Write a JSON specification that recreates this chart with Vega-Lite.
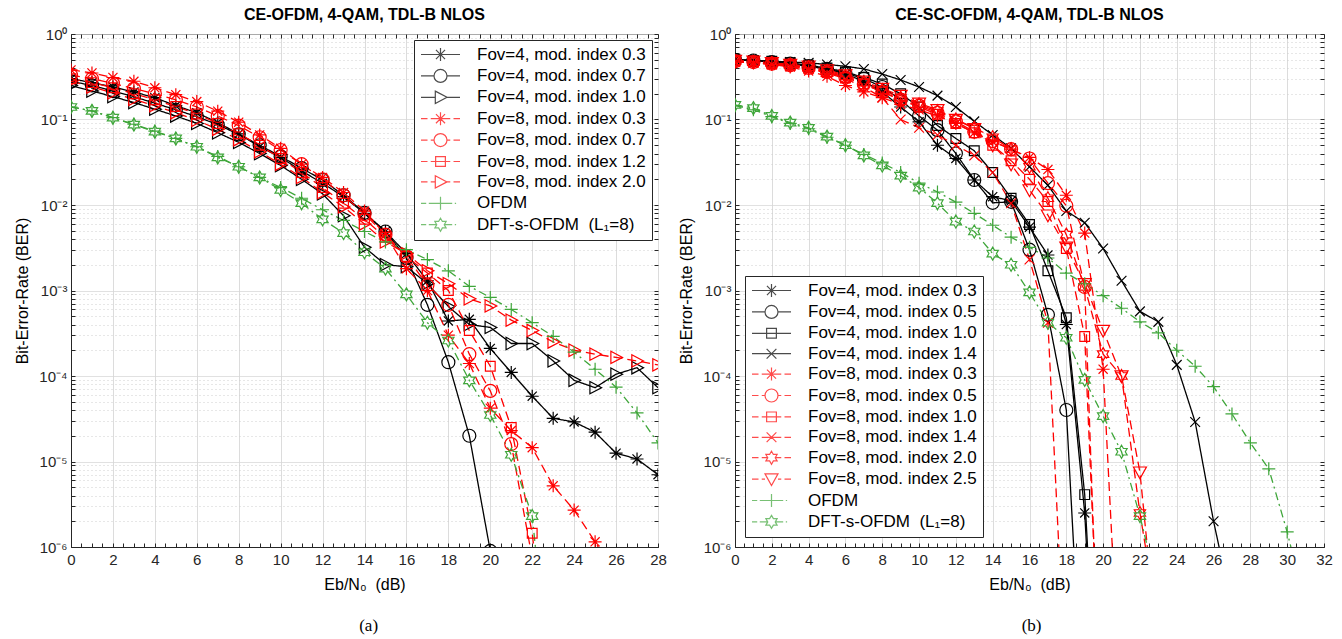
{
"$schema": "https://vega.github.io/schema/vega-lite/v6.json",
"background": "white",
"padding": {"left": 14, "top": 6, "right": 8, "bottom": 2},
"spacing": 11,
"config": {
  "font": "Liberation Sans",
  "view": {"stroke": "#262626", "strokeWidth": 1},
  "title": {"fontSize": 16, "fontWeight": "bold", "color": "#000000", "offset": 4},
  "axis": {"labelFontSize": 15, "labelColor": "#262626", "tickColor": "#262626", "domainColor": "#262626", "titleFontSize": 16, "titleFontWeight": "normal", "titleColor": "#000000", "labelOverlap": false, "labelFlush": false, "gridWidth": 1}
},
"datasets": {
"a": [
{"s":"Fov=4, mod. index 0.3","x":0,"y":0.3},{"s":"Fov=4, mod. index 0.3","x":1,"y":0.27},{"s":"Fov=4, mod. index 0.3","x":2,"y":0.24},{"s":"Fov=4, mod. index 0.3","x":3,"y":0.21},{"s":"Fov=4, mod. index 0.3","x":4,"y":0.18},{"s":"Fov=4, mod. index 0.3","x":5,"y":0.145},{"s":"Fov=4, mod. index 0.3","x":6,"y":0.12},{"s":"Fov=4, mod. index 0.3","x":7,"y":0.092},{"s":"Fov=4, mod. index 0.3","x":8,"y":0.068},{"s":"Fov=4, mod. index 0.3","x":9,"y":0.048},{"s":"Fov=4, mod. index 0.3","x":10,"y":0.036},{"s":"Fov=4, mod. index 0.3","x":11,"y":0.025},{"s":"Fov=4, mod. index 0.3","x":12,"y":0.018},{"s":"Fov=4, mod. index 0.3","x":13,"y":0.0125},{"s":"Fov=4, mod. index 0.3","x":14,"y":0.008},{"s":"Fov=4, mod. index 0.3","x":15,"y":0.0049},{"s":"Fov=4, mod. index 0.3","x":16,"y":0.0027},{"s":"Fov=4, mod. index 0.3","x":17,"y":0.0013},{"s":"Fov=4, mod. index 0.3","x":18,"y":0.00044},{"s":"Fov=4, mod. index 0.3","x":19,"y":0.00046},{"s":"Fov=4, mod. index 0.3","x":20,"y":0.00021},{"s":"Fov=4, mod. index 0.3","x":21,"y":0.00011},{"s":"Fov=4, mod. index 0.3","x":22,"y":5.8e-5},{"s":"Fov=4, mod. index 0.3","x":23,"y":3.2e-5},{"s":"Fov=4, mod. index 0.3","x":24,"y":2.9e-5},{"s":"Fov=4, mod. index 0.3","x":25,"y":2.2e-5},{"s":"Fov=4, mod. index 0.3","x":26,"y":1.25e-5},{"s":"Fov=4, mod. index 0.3","x":27,"y":1.07e-5},{"s":"Fov=4, mod. index 0.3","x":28,"y":7e-6},
{"s":"Fov=4, mod. index 0.7","x":0,"y":0.28},{"s":"Fov=4, mod. index 0.7","x":1,"y":0.25},{"s":"Fov=4, mod. index 0.7","x":2,"y":0.215},{"s":"Fov=4, mod. index 0.7","x":3,"y":0.185},{"s":"Fov=4, mod. index 0.7","x":4,"y":0.155},{"s":"Fov=4, mod. index 0.7","x":5,"y":0.13},{"s":"Fov=4, mod. index 0.7","x":6,"y":0.108},{"s":"Fov=4, mod. index 0.7","x":7,"y":0.087},{"s":"Fov=4, mod. index 0.7","x":8,"y":0.067},{"s":"Fov=4, mod. index 0.7","x":9,"y":0.05},{"s":"Fov=4, mod. index 0.7","x":10,"y":0.037},{"s":"Fov=4, mod. index 0.7","x":11,"y":0.027},{"s":"Fov=4, mod. index 0.7","x":12,"y":0.0196},{"s":"Fov=4, mod. index 0.7","x":13,"y":0.013},{"s":"Fov=4, mod. index 0.7","x":14,"y":0.0081},{"s":"Fov=4, mod. index 0.7","x":15,"y":0.0049},{"s":"Fov=4, mod. index 0.7","x":16,"y":0.0024},{"s":"Fov=4, mod. index 0.7","x":17,"y":0.00068},{"s":"Fov=4, mod. index 0.7","x":18,"y":0.000145},{"s":"Fov=4, mod. index 0.7","x":19,"y":2e-5},{"s":"Fov=4, mod. index 0.7","x":20,"y":9e-7},
{"s":"Fov=4, mod. index 1.0","x":0,"y":0.25},{"s":"Fov=4, mod. index 1.0","x":1,"y":0.215},{"s":"Fov=4, mod. index 1.0","x":2,"y":0.185},{"s":"Fov=4, mod. index 1.0","x":3,"y":0.158},{"s":"Fov=4, mod. index 1.0","x":4,"y":0.132},{"s":"Fov=4, mod. index 1.0","x":5,"y":0.11},{"s":"Fov=4, mod. index 1.0","x":6,"y":0.09},{"s":"Fov=4, mod. index 1.0","x":7,"y":0.07},{"s":"Fov=4, mod. index 1.0","x":8,"y":0.054},{"s":"Fov=4, mod. index 1.0","x":9,"y":0.04},{"s":"Fov=4, mod. index 1.0","x":10,"y":0.029},{"s":"Fov=4, mod. index 1.0","x":11,"y":0.02},{"s":"Fov=4, mod. index 1.0","x":12,"y":0.0135},{"s":"Fov=4, mod. index 1.0","x":13,"y":0.0075},{"s":"Fov=4, mod. index 1.0","x":14,"y":0.0032},{"s":"Fov=4, mod. index 1.0","x":15,"y":0.002},{"s":"Fov=4, mod. index 1.0","x":16,"y":0.0019},{"s":"Fov=4, mod. index 1.0","x":17,"y":0.0012},{"s":"Fov=4, mod. index 1.0","x":18,"y":0.00065},{"s":"Fov=4, mod. index 1.0","x":19,"y":0.0004},{"s":"Fov=4, mod. index 1.0","x":20,"y":0.00037},{"s":"Fov=4, mod. index 1.0","x":21,"y":0.00024},{"s":"Fov=4, mod. index 1.0","x":22,"y":0.00024},{"s":"Fov=4, mod. index 1.0","x":23,"y":0.00015},{"s":"Fov=4, mod. index 1.0","x":24,"y":8.9e-5},{"s":"Fov=4, mod. index 1.0","x":25,"y":7.3e-5},{"s":"Fov=4, mod. index 1.0","x":26,"y":0.000105},{"s":"Fov=4, mod. index 1.0","x":27,"y":0.000125},{"s":"Fov=4, mod. index 1.0","x":28,"y":7.3e-5},
{"s":"Fov=8, mod. index 0.3","x":0,"y":0.38},{"s":"Fov=8, mod. index 0.3","x":1,"y":0.35},{"s":"Fov=8, mod. index 0.3","x":2,"y":0.31},{"s":"Fov=8, mod. index 0.3","x":3,"y":0.28},{"s":"Fov=8, mod. index 0.3","x":4,"y":0.235},{"s":"Fov=8, mod. index 0.3","x":5,"y":0.195},{"s":"Fov=8, mod. index 0.3","x":6,"y":0.162},{"s":"Fov=8, mod. index 0.3","x":7,"y":0.125},{"s":"Fov=8, mod. index 0.3","x":8,"y":0.093},{"s":"Fov=8, mod. index 0.3","x":9,"y":0.066},{"s":"Fov=8, mod. index 0.3","x":10,"y":0.046},{"s":"Fov=8, mod. index 0.3","x":11,"y":0.03},{"s":"Fov=8, mod. index 0.3","x":12,"y":0.021},{"s":"Fov=8, mod. index 0.3","x":13,"y":0.014},{"s":"Fov=8, mod. index 0.3","x":14,"y":0.0085},{"s":"Fov=8, mod. index 0.3","x":15,"y":0.0045},{"s":"Fov=8, mod. index 0.3","x":16,"y":0.0018},{"s":"Fov=8, mod. index 0.3","x":17,"y":0.001},{"s":"Fov=8, mod. index 0.3","x":18,"y":0.0003},{"s":"Fov=8, mod. index 0.3","x":19,"y":0.00014},{"s":"Fov=8, mod. index 0.3","x":20,"y":4.2e-5},{"s":"Fov=8, mod. index 0.3","x":21,"y":2.3e-5},{"s":"Fov=8, mod. index 0.3","x":22,"y":1.45e-5},{"s":"Fov=8, mod. index 0.3","x":23,"y":5.2e-6},{"s":"Fov=8, mod. index 0.3","x":24,"y":2.7e-6},{"s":"Fov=8, mod. index 0.3","x":25,"y":1.15e-6},{"s":"Fov=8, mod. index 0.3","x":26,"y":4.5e-7},
{"s":"Fov=8, mod. index 0.7","x":0,"y":0.33},{"s":"Fov=8, mod. index 0.7","x":1,"y":0.3},{"s":"Fov=8, mod. index 0.7","x":2,"y":0.265},{"s":"Fov=8, mod. index 0.7","x":3,"y":0.23},{"s":"Fov=8, mod. index 0.7","x":4,"y":0.2},{"s":"Fov=8, mod. index 0.7","x":5,"y":0.17},{"s":"Fov=8, mod. index 0.7","x":6,"y":0.14},{"s":"Fov=8, mod. index 0.7","x":7,"y":0.11},{"s":"Fov=8, mod. index 0.7","x":8,"y":0.085},{"s":"Fov=8, mod. index 0.7","x":9,"y":0.062},{"s":"Fov=8, mod. index 0.7","x":10,"y":0.044},{"s":"Fov=8, mod. index 0.7","x":11,"y":0.03},{"s":"Fov=8, mod. index 0.7","x":12,"y":0.02},{"s":"Fov=8, mod. index 0.7","x":13,"y":0.013},{"s":"Fov=8, mod. index 0.7","x":14,"y":0.0078},{"s":"Fov=8, mod. index 0.7","x":15,"y":0.0045},{"s":"Fov=8, mod. index 0.7","x":16,"y":0.0025},{"s":"Fov=8, mod. index 0.7","x":17,"y":0.00115},{"s":"Fov=8, mod. index 0.7","x":18,"y":0.00068},{"s":"Fov=8, mod. index 0.7","x":19,"y":0.00018},{"s":"Fov=8, mod. index 0.7","x":20,"y":6.7e-5},{"s":"Fov=8, mod. index 0.7","x":21,"y":1.6e-5},{"s":"Fov=8, mod. index 0.7","x":22,"y":7.4e-7},
{"s":"Fov=8, mod. index 1.2","x":0,"y":0.3},{"s":"Fov=8, mod. index 1.2","x":1,"y":0.27},{"s":"Fov=8, mod. index 1.2","x":2,"y":0.235},{"s":"Fov=8, mod. index 1.2","x":3,"y":0.2},{"s":"Fov=8, mod. index 1.2","x":4,"y":0.17},{"s":"Fov=8, mod. index 1.2","x":5,"y":0.142},{"s":"Fov=8, mod. index 1.2","x":6,"y":0.116},{"s":"Fov=8, mod. index 1.2","x":7,"y":0.09},{"s":"Fov=8, mod. index 1.2","x":8,"y":0.068},{"s":"Fov=8, mod. index 1.2","x":9,"y":0.05},{"s":"Fov=8, mod. index 1.2","x":10,"y":0.035},{"s":"Fov=8, mod. index 1.2","x":11,"y":0.024},{"s":"Fov=8, mod. index 1.2","x":12,"y":0.016},{"s":"Fov=8, mod. index 1.2","x":13,"y":0.0105},{"s":"Fov=8, mod. index 1.2","x":14,"y":0.0068},{"s":"Fov=8, mod. index 1.2","x":15,"y":0.0042},{"s":"Fov=8, mod. index 1.2","x":16,"y":0.0025},{"s":"Fov=8, mod. index 1.2","x":17,"y":0.0016},{"s":"Fov=8, mod. index 1.2","x":18,"y":0.001},{"s":"Fov=8, mod. index 1.2","x":19,"y":0.00034},{"s":"Fov=8, mod. index 1.2","x":20,"y":0.00013},{"s":"Fov=8, mod. index 1.2","x":21,"y":2.5e-5},{"s":"Fov=8, mod. index 1.2","x":22,"y":1.45e-6},{"s":"Fov=8, mod. index 1.2","x":23,"y":1e-8},
{"s":"Fov=8, mod. index 2.0","x":0,"y":0.28},{"s":"Fov=8, mod. index 2.0","x":1,"y":0.24},{"s":"Fov=8, mod. index 2.0","x":2,"y":0.205},{"s":"Fov=8, mod. index 2.0","x":3,"y":0.172},{"s":"Fov=8, mod. index 2.0","x":4,"y":0.145},{"s":"Fov=8, mod. index 2.0","x":5,"y":0.12},{"s":"Fov=8, mod. index 2.0","x":6,"y":0.098},{"s":"Fov=8, mod. index 2.0","x":7,"y":0.077},{"s":"Fov=8, mod. index 2.0","x":8,"y":0.058},{"s":"Fov=8, mod. index 2.0","x":9,"y":0.042},{"s":"Fov=8, mod. index 2.0","x":10,"y":0.03},{"s":"Fov=8, mod. index 2.0","x":11,"y":0.021},{"s":"Fov=8, mod. index 2.0","x":12,"y":0.014},{"s":"Fov=8, mod. index 2.0","x":13,"y":0.0095},{"s":"Fov=8, mod. index 2.0","x":14,"y":0.006},{"s":"Fov=8, mod. index 2.0","x":15,"y":0.0037},{"s":"Fov=8, mod. index 2.0","x":16,"y":0.0027},{"s":"Fov=8, mod. index 2.0","x":17,"y":0.0017},{"s":"Fov=8, mod. index 2.0","x":18,"y":0.0012},{"s":"Fov=8, mod. index 2.0","x":19,"y":0.0008},{"s":"Fov=8, mod. index 2.0","x":20,"y":0.00066},{"s":"Fov=8, mod. index 2.0","x":21,"y":0.00045},{"s":"Fov=8, mod. index 2.0","x":22,"y":0.00034},{"s":"Fov=8, mod. index 2.0","x":23,"y":0.00025},{"s":"Fov=8, mod. index 2.0","x":24,"y":0.0002},{"s":"Fov=8, mod. index 2.0","x":25,"y":0.00018},{"s":"Fov=8, mod. index 2.0","x":26,"y":0.000165},{"s":"Fov=8, mod. index 2.0","x":27,"y":0.00015},{"s":"Fov=8, mod. index 2.0","x":28,"y":0.000135},
{"s":"OFDM","x":0,"y":0.14},{"s":"OFDM","x":1,"y":0.126},{"s":"OFDM","x":2,"y":0.105},{"s":"OFDM","x":3,"y":0.088},{"s":"OFDM","x":4,"y":0.073},{"s":"OFDM","x":5,"y":0.06},{"s":"OFDM","x":6,"y":0.048},{"s":"OFDM","x":7,"y":0.037},{"s":"OFDM","x":8,"y":0.028},{"s":"OFDM","x":9,"y":0.021},{"s":"OFDM","x":10,"y":0.016},{"s":"OFDM","x":11,"y":0.012},{"s":"OFDM","x":12,"y":0.0088},{"s":"OFDM","x":13,"y":0.0066},{"s":"OFDM","x":14,"y":0.0049},{"s":"OFDM","x":15,"y":0.0037},{"s":"OFDM","x":16,"y":0.003},{"s":"OFDM","x":17,"y":0.0023},{"s":"OFDM","x":18,"y":0.0017},{"s":"OFDM","x":19,"y":0.00112},{"s":"OFDM","x":20,"y":0.00083},{"s":"OFDM","x":21,"y":0.0006},{"s":"OFDM","x":22,"y":0.00042},{"s":"OFDM","x":23,"y":0.00029},{"s":"OFDM","x":24,"y":0.00019},{"s":"OFDM","x":25,"y":0.00012},{"s":"OFDM","x":26,"y":7.4e-5},{"s":"OFDM","x":27,"y":3.7e-5},{"s":"OFDM","x":28,"y":1.65e-5},
{"s":"DFT-s-OFDM\u00a0 (L₁=8)","x":0,"y":0.14},{"s":"DFT-s-OFDM\u00a0 (L₁=8)","x":1,"y":0.126},{"s":"DFT-s-OFDM\u00a0 (L₁=8)","x":2,"y":0.105},{"s":"DFT-s-OFDM\u00a0 (L₁=8)","x":3,"y":0.087},{"s":"DFT-s-OFDM\u00a0 (L₁=8)","x":4,"y":0.072},{"s":"DFT-s-OFDM\u00a0 (L₁=8)","x":5,"y":0.06},{"s":"DFT-s-OFDM\u00a0 (L₁=8)","x":6,"y":0.048},{"s":"DFT-s-OFDM\u00a0 (L₁=8)","x":7,"y":0.036},{"s":"DFT-s-OFDM\u00a0 (L₁=8)","x":8,"y":0.028},{"s":"DFT-s-OFDM\u00a0 (L₁=8)","x":9,"y":0.021},{"s":"DFT-s-OFDM\u00a0 (L₁=8)","x":10,"y":0.015},{"s":"DFT-s-OFDM\u00a0 (L₁=8)","x":11,"y":0.0105},{"s":"DFT-s-OFDM\u00a0 (L₁=8)","x":12,"y":0.0068},{"s":"DFT-s-OFDM\u00a0 (L₁=8)","x":13,"y":0.0047},{"s":"DFT-s-OFDM\u00a0 (L₁=8)","x":14,"y":0.0028},{"s":"DFT-s-OFDM\u00a0 (L₁=8)","x":15,"y":0.0018},{"s":"DFT-s-OFDM\u00a0 (L₁=8)","x":16,"y":0.0009},{"s":"DFT-s-OFDM\u00a0 (L₁=8)","x":17,"y":0.00042},{"s":"DFT-s-OFDM\u00a0 (L₁=8)","x":18,"y":0.00026},{"s":"DFT-s-OFDM\u00a0 (L₁=8)","x":19,"y":8.9e-5},{"s":"DFT-s-OFDM\u00a0 (L₁=8)","x":20,"y":3.5e-5},{"s":"DFT-s-OFDM\u00a0 (L₁=8)","x":21,"y":1.2e-5},{"s":"DFT-s-OFDM\u00a0 (L₁=8)","x":22,"y":2.3e-6},{"s":"DFT-s-OFDM\u00a0 (L₁=8)","x":23,"y":1e-8}
],
"b": [
{"s":"Fov=4, mod. index 0.3","x":0,"y":0.5},{"s":"Fov=4, mod. index 0.3","x":1,"y":0.49},{"s":"Fov=4, mod. index 0.3","x":2,"y":0.47},{"s":"Fov=4, mod. index 0.3","x":3,"y":0.45},{"s":"Fov=4, mod. index 0.3","x":4,"y":0.42},{"s":"Fov=4, mod. index 0.3","x":5,"y":0.39},{"s":"Fov=4, mod. index 0.3","x":6,"y":0.34},{"s":"Fov=4, mod. index 0.3","x":7,"y":0.28},{"s":"Fov=4, mod. index 0.3","x":8,"y":0.21},{"s":"Fov=4, mod. index 0.3","x":9,"y":0.14},{"s":"Fov=4, mod. index 0.3","x":10,"y":0.094},{"s":"Fov=4, mod. index 0.3","x":11,"y":0.05},{"s":"Fov=4, mod. index 0.3","x":12,"y":0.035},{"s":"Fov=4, mod. index 0.3","x":13,"y":0.0196},{"s":"Fov=4, mod. index 0.3","x":14,"y":0.0125},{"s":"Fov=4, mod. index 0.3","x":15,"y":0.0112},{"s":"Fov=4, mod. index 0.3","x":16,"y":0.0055},{"s":"Fov=4, mod. index 0.3","x":17,"y":0.0026},{"s":"Fov=4, mod. index 0.3","x":18,"y":0.0004},{"s":"Fov=4, mod. index 0.3","x":19,"y":2.5e-6},{"s":"Fov=4, mod. index 0.3","x":20,"y":2.5e-10},
{"s":"Fov=4, mod. index 0.5","x":0,"y":0.5},{"s":"Fov=4, mod. index 0.5","x":1,"y":0.49},{"s":"Fov=4, mod. index 0.5","x":2,"y":0.47},{"s":"Fov=4, mod. index 0.5","x":3,"y":0.45},{"s":"Fov=4, mod. index 0.5","x":4,"y":0.42},{"s":"Fov=4, mod. index 0.5","x":5,"y":0.39},{"s":"Fov=4, mod. index 0.5","x":6,"y":0.35},{"s":"Fov=4, mod. index 0.5","x":7,"y":0.3},{"s":"Fov=4, mod. index 0.5","x":8,"y":0.24},{"s":"Fov=4, mod. index 0.5","x":9,"y":0.17},{"s":"Fov=4, mod. index 0.5","x":10,"y":0.11},{"s":"Fov=4, mod. index 0.5","x":11,"y":0.075},{"s":"Fov=4, mod. index 0.5","x":12,"y":0.04},{"s":"Fov=4, mod. index 0.5","x":13,"y":0.0196},{"s":"Fov=4, mod. index 0.5","x":14,"y":0.0106},{"s":"Fov=4, mod. index 0.5","x":15,"y":0.0109},{"s":"Fov=4, mod. index 0.5","x":16,"y":0.003},{"s":"Fov=4, mod. index 0.5","x":17,"y":0.00052},{"s":"Fov=4, mod. index 0.5","x":18,"y":4e-5},{"s":"Fov=4, mod. index 0.5","x":19,"y":4e-9},
{"s":"Fov=4, mod. index 1.0","x":0,"y":0.5},{"s":"Fov=4, mod. index 1.0","x":1,"y":0.49},{"s":"Fov=4, mod. index 1.0","x":2,"y":0.48},{"s":"Fov=4, mod. index 1.0","x":3,"y":0.46},{"s":"Fov=4, mod. index 1.0","x":4,"y":0.43},{"s":"Fov=4, mod. index 1.0","x":5,"y":0.4},{"s":"Fov=4, mod. index 1.0","x":6,"y":0.36},{"s":"Fov=4, mod. index 1.0","x":7,"y":0.31},{"s":"Fov=4, mod. index 1.0","x":8,"y":0.26},{"s":"Fov=4, mod. index 1.0","x":9,"y":0.2},{"s":"Fov=4, mod. index 1.0","x":10,"y":0.14},{"s":"Fov=4, mod. index 1.0","x":11,"y":0.085},{"s":"Fov=4, mod. index 1.0","x":12,"y":0.06},{"s":"Fov=4, mod. index 1.0","x":13,"y":0.043},{"s":"Fov=4, mod. index 1.0","x":14,"y":0.024},{"s":"Fov=4, mod. index 1.0","x":15,"y":0.012},{"s":"Fov=4, mod. index 1.0","x":16,"y":0.0059},{"s":"Fov=4, mod. index 1.0","x":17,"y":0.0017},{"s":"Fov=4, mod. index 1.0","x":18,"y":0.00048},{"s":"Fov=4, mod. index 1.0","x":19,"y":4.1e-6},{"s":"Fov=4, mod. index 1.0","x":20,"y":4e-10},
{"s":"Fov=4, mod. index 1.4","x":0,"y":0.5},{"s":"Fov=4, mod. index 1.4","x":1,"y":0.49},{"s":"Fov=4, mod. index 1.4","x":2,"y":0.48},{"s":"Fov=4, mod. index 1.4","x":3,"y":0.47},{"s":"Fov=4, mod. index 1.4","x":4,"y":0.46},{"s":"Fov=4, mod. index 1.4","x":5,"y":0.44},{"s":"Fov=4, mod. index 1.4","x":6,"y":0.42},{"s":"Fov=4, mod. index 1.4","x":7,"y":0.39},{"s":"Fov=4, mod. index 1.4","x":8,"y":0.34},{"s":"Fov=4, mod. index 1.4","x":9,"y":0.29},{"s":"Fov=4, mod. index 1.4","x":10,"y":0.24},{"s":"Fov=4, mod. index 1.4","x":11,"y":0.19},{"s":"Fov=4, mod. index 1.4","x":12,"y":0.14},{"s":"Fov=4, mod. index 1.4","x":13,"y":0.095},{"s":"Fov=4, mod. index 1.4","x":14,"y":0.066},{"s":"Fov=4, mod. index 1.4","x":15,"y":0.046},{"s":"Fov=4, mod. index 1.4","x":16,"y":0.028},{"s":"Fov=4, mod. index 1.4","x":17,"y":0.017},{"s":"Fov=4, mod. index 1.4","x":18,"y":0.0085},{"s":"Fov=4, mod. index 1.4","x":19,"y":0.0062},{"s":"Fov=4, mod. index 1.4","x":20,"y":0.0031},{"s":"Fov=4, mod. index 1.4","x":21,"y":0.0013},{"s":"Fov=4, mod. index 1.4","x":22,"y":0.00057},{"s":"Fov=4, mod. index 1.4","x":23,"y":0.00043},{"s":"Fov=4, mod. index 1.4","x":24,"y":0.000135},{"s":"Fov=4, mod. index 1.4","x":25,"y":2.9e-5},{"s":"Fov=4, mod. index 1.4","x":26,"y":2e-6},{"s":"Fov=4, mod. index 1.4","x":27,"y":2e-7},
{"s":"Fov=8, mod. index 0.3","x":0,"y":0.47},{"s":"Fov=8, mod. index 0.3","x":1,"y":0.46},{"s":"Fov=8, mod. index 0.3","x":2,"y":0.44},{"s":"Fov=8, mod. index 0.3","x":3,"y":0.41},{"s":"Fov=8, mod. index 0.3","x":4,"y":0.37},{"s":"Fov=8, mod. index 0.3","x":5,"y":0.32},{"s":"Fov=8, mod. index 0.3","x":6,"y":0.25},{"s":"Fov=8, mod. index 0.3","x":7,"y":0.21},{"s":"Fov=8, mod. index 0.3","x":8,"y":0.18},{"s":"Fov=8, mod. index 0.3","x":9,"y":0.15},{"s":"Fov=8, mod. index 0.3","x":10,"y":0.13},{"s":"Fov=8, mod. index 0.3","x":11,"y":0.11},{"s":"Fov=8, mod. index 0.3","x":12,"y":0.09},{"s":"Fov=8, mod. index 0.3","x":13,"y":0.07},{"s":"Fov=8, mod. index 0.3","x":14,"y":0.055},{"s":"Fov=8, mod. index 0.3","x":15,"y":0.045},{"s":"Fov=8, mod. index 0.3","x":16,"y":0.036},{"s":"Fov=8, mod. index 0.3","x":17,"y":0.026},{"s":"Fov=8, mod. index 0.3","x":18,"y":0.013},{"s":"Fov=8, mod. index 0.3","x":19,"y":0.0047},{"s":"Fov=8, mod. index 0.3","x":20,"y":0.00012},{"s":"Fov=8, mod. index 0.3","x":21,"y":8e-9},
{"s":"Fov=8, mod. index 0.5","x":0,"y":0.48},{"s":"Fov=8, mod. index 0.5","x":1,"y":0.47},{"s":"Fov=8, mod. index 0.5","x":2,"y":0.45},{"s":"Fov=8, mod. index 0.5","x":3,"y":0.43},{"s":"Fov=8, mod. index 0.5","x":4,"y":0.4},{"s":"Fov=8, mod. index 0.5","x":5,"y":0.36},{"s":"Fov=8, mod. index 0.5","x":6,"y":0.31},{"s":"Fov=8, mod. index 0.5","x":7,"y":0.26},{"s":"Fov=8, mod. index 0.5","x":8,"y":0.21},{"s":"Fov=8, mod. index 0.5","x":9,"y":0.17},{"s":"Fov=8, mod. index 0.5","x":10,"y":0.145},{"s":"Fov=8, mod. index 0.5","x":11,"y":0.12},{"s":"Fov=8, mod. index 0.5","x":12,"y":0.095},{"s":"Fov=8, mod. index 0.5","x":13,"y":0.072},{"s":"Fov=8, mod. index 0.5","x":14,"y":0.056},{"s":"Fov=8, mod. index 0.5","x":15,"y":0.045},{"s":"Fov=8, mod. index 0.5","x":16,"y":0.035},{"s":"Fov=8, mod. index 0.5","x":17,"y":0.018},{"s":"Fov=8, mod. index 0.5","x":18,"y":0.0098},{"s":"Fov=8, mod. index 0.5","x":19,"y":0.0011},{"s":"Fov=8, mod. index 0.5","x":20,"y":1e-9},
{"s":"Fov=8, mod. index 1.0","x":0,"y":0.48},{"s":"Fov=8, mod. index 1.0","x":1,"y":0.47},{"s":"Fov=8, mod. index 1.0","x":2,"y":0.45},{"s":"Fov=8, mod. index 1.0","x":3,"y":0.43},{"s":"Fov=8, mod. index 1.0","x":4,"y":0.4},{"s":"Fov=8, mod. index 1.0","x":5,"y":0.36},{"s":"Fov=8, mod. index 1.0","x":6,"y":0.31},{"s":"Fov=8, mod. index 1.0","x":7,"y":0.26},{"s":"Fov=8, mod. index 1.0","x":8,"y":0.21},{"s":"Fov=8, mod. index 1.0","x":9,"y":0.17},{"s":"Fov=8, mod. index 1.0","x":10,"y":0.14},{"s":"Fov=8, mod. index 1.0","x":11,"y":0.115},{"s":"Fov=8, mod. index 1.0","x":12,"y":0.09},{"s":"Fov=8, mod. index 1.0","x":13,"y":0.07},{"s":"Fov=8, mod. index 1.0","x":14,"y":0.05},{"s":"Fov=8, mod. index 1.0","x":15,"y":0.033},{"s":"Fov=8, mod. index 1.0","x":16,"y":0.02},{"s":"Fov=8, mod. index 1.0","x":17,"y":0.011},{"s":"Fov=8, mod. index 1.0","x":18,"y":0.0031},{"s":"Fov=8, mod. index 1.0","x":19,"y":0.00029},{"s":"Fov=8, mod. index 1.0","x":20,"y":3e-9},
{"s":"Fov=8, mod. index 1.4","x":0,"y":0.47},{"s":"Fov=8, mod. index 1.4","x":1,"y":0.46},{"s":"Fov=8, mod. index 1.4","x":2,"y":0.44},{"s":"Fov=8, mod. index 1.4","x":3,"y":0.42},{"s":"Fov=8, mod. index 1.4","x":4,"y":0.39},{"s":"Fov=8, mod. index 1.4","x":5,"y":0.35},{"s":"Fov=8, mod. index 1.4","x":6,"y":0.3},{"s":"Fov=8, mod. index 1.4","x":7,"y":0.24},{"s":"Fov=8, mod. index 1.4","x":8,"y":0.18},{"s":"Fov=8, mod. index 1.4","x":9,"y":0.1},{"s":"Fov=8, mod. index 1.4","x":10,"y":0.08},{"s":"Fov=8, mod. index 1.4","x":11,"y":0.066},{"s":"Fov=8, mod. index 1.4","x":12,"y":0.05},{"s":"Fov=8, mod. index 1.4","x":13,"y":0.038},{"s":"Fov=8, mod. index 1.4","x":14,"y":0.024},{"s":"Fov=8, mod. index 1.4","x":15,"y":0.0105},{"s":"Fov=8, mod. index 1.4","x":16,"y":0.0023},{"s":"Fov=8, mod. index 1.4","x":17,"y":0.00042},{"s":"Fov=8, mod. index 1.4","x":18,"y":1.6e-8},
{"s":"Fov=8, mod. index 2.0","x":0,"y":0.48},{"s":"Fov=8, mod. index 2.0","x":1,"y":0.47},{"s":"Fov=8, mod. index 2.0","x":2,"y":0.46},{"s":"Fov=8, mod. index 2.0","x":3,"y":0.44},{"s":"Fov=8, mod. index 2.0","x":4,"y":0.41},{"s":"Fov=8, mod. index 2.0","x":5,"y":0.37},{"s":"Fov=8, mod. index 2.0","x":6,"y":0.32},{"s":"Fov=8, mod. index 2.0","x":7,"y":0.27},{"s":"Fov=8, mod. index 2.0","x":8,"y":0.22},{"s":"Fov=8, mod. index 2.0","x":9,"y":0.18},{"s":"Fov=8, mod. index 2.0","x":10,"y":0.15},{"s":"Fov=8, mod. index 2.0","x":11,"y":0.125},{"s":"Fov=8, mod. index 2.0","x":12,"y":0.1},{"s":"Fov=8, mod. index 2.0","x":13,"y":0.08},{"s":"Fov=8, mod. index 2.0","x":14,"y":0.062},{"s":"Fov=8, mod. index 2.0","x":15,"y":0.045},{"s":"Fov=8, mod. index 2.0","x":16,"y":0.028},{"s":"Fov=8, mod. index 2.0","x":17,"y":0.012},{"s":"Fov=8, mod. index 2.0","x":18,"y":0.0045},{"s":"Fov=8, mod. index 2.0","x":19,"y":0.0011},{"s":"Fov=8, mod. index 2.0","x":20,"y":0.00018},{"s":"Fov=8, mod. index 2.0","x":21,"y":0.0001},{"s":"Fov=8, mod. index 2.0","x":22,"y":2.5e-6},{"s":"Fov=8, mod. index 2.0","x":23,"y":1.2e-7},
{"s":"Fov=8, mod. index 2.5","x":0,"y":0.49},{"s":"Fov=8, mod. index 2.5","x":1,"y":0.48},{"s":"Fov=8, mod. index 2.5","x":2,"y":0.46},{"s":"Fov=8, mod. index 2.5","x":3,"y":0.44},{"s":"Fov=8, mod. index 2.5","x":4,"y":0.42},{"s":"Fov=8, mod. index 2.5","x":5,"y":0.38},{"s":"Fov=8, mod. index 2.5","x":6,"y":0.33},{"s":"Fov=8, mod. index 2.5","x":7,"y":0.28},{"s":"Fov=8, mod. index 2.5","x":8,"y":0.23},{"s":"Fov=8, mod. index 2.5","x":9,"y":0.19},{"s":"Fov=8, mod. index 2.5","x":10,"y":0.155},{"s":"Fov=8, mod. index 2.5","x":11,"y":0.13},{"s":"Fov=8, mod. index 2.5","x":12,"y":0.1},{"s":"Fov=8, mod. index 2.5","x":13,"y":0.078},{"s":"Fov=8, mod. index 2.5","x":14,"y":0.05},{"s":"Fov=8, mod. index 2.5","x":15,"y":0.03},{"s":"Fov=8, mod. index 2.5","x":16,"y":0.015},{"s":"Fov=8, mod. index 2.5","x":17,"y":0.0076},{"s":"Fov=8, mod. index 2.5","x":18,"y":0.0032},{"s":"Fov=8, mod. index 2.5","x":19,"y":0.0012},{"s":"Fov=8, mod. index 2.5","x":20,"y":0.00034},{"s":"Fov=8, mod. index 2.5","x":21,"y":0.0001},{"s":"Fov=8, mod. index 2.5","x":22,"y":7.5e-6},{"s":"Fov=8, mod. index 2.5","x":23,"y":5e-8},
{"s":"OFDM","x":0,"y":0.145},{"s":"OFDM","x":1,"y":0.13},{"s":"OFDM","x":2,"y":0.108},{"s":"OFDM","x":3,"y":0.09},{"s":"OFDM","x":4,"y":0.078},{"s":"OFDM","x":5,"y":0.062},{"s":"OFDM","x":6,"y":0.05},{"s":"OFDM","x":7,"y":0.039},{"s":"OFDM","x":8,"y":0.031},{"s":"OFDM","x":9,"y":0.024},{"s":"OFDM","x":10,"y":0.018},{"s":"OFDM","x":11,"y":0.0142},{"s":"OFDM","x":12,"y":0.0108},{"s":"OFDM","x":13,"y":0.008},{"s":"OFDM","x":14,"y":0.0058},{"s":"OFDM","x":15,"y":0.0042},{"s":"OFDM","x":16,"y":0.0032},{"s":"OFDM","x":17,"y":0.0024},{"s":"OFDM","x":18,"y":0.0016},{"s":"OFDM","x":19,"y":0.0012},{"s":"OFDM","x":20,"y":0.00087},{"s":"OFDM","x":21,"y":0.00062},{"s":"OFDM","x":22,"y":0.00043},{"s":"OFDM","x":23,"y":0.00032},{"s":"OFDM","x":24,"y":0.0002},{"s":"OFDM","x":25,"y":0.00013},{"s":"OFDM","x":26,"y":7.5e-5},{"s":"OFDM","x":27,"y":3.6e-5},{"s":"OFDM","x":28,"y":1.65e-5},{"s":"OFDM","x":29,"y":8.2e-6},{"s":"OFDM","x":30,"y":1.5e-6},{"s":"OFDM","x":31,"y":2e-7},
{"s":"DFT-s-OFDM\u00a0 (L₁=8)","x":0,"y":0.148},{"s":"DFT-s-OFDM\u00a0 (L₁=8)","x":1,"y":0.136},{"s":"DFT-s-OFDM\u00a0 (L₁=8)","x":2,"y":0.11},{"s":"DFT-s-OFDM\u00a0 (L₁=8)","x":3,"y":0.092},{"s":"DFT-s-OFDM\u00a0 (L₁=8)","x":4,"y":0.08},{"s":"DFT-s-OFDM\u00a0 (L₁=8)","x":5,"y":0.063},{"s":"DFT-s-OFDM\u00a0 (L₁=8)","x":6,"y":0.05},{"s":"DFT-s-OFDM\u00a0 (L₁=8)","x":7,"y":0.038},{"s":"DFT-s-OFDM\u00a0 (L₁=8)","x":8,"y":0.029},{"s":"DFT-s-OFDM\u00a0 (L₁=8)","x":9,"y":0.022},{"s":"DFT-s-OFDM\u00a0 (L₁=8)","x":10,"y":0.016},{"s":"DFT-s-OFDM\u00a0 (L₁=8)","x":11,"y":0.0105},{"s":"DFT-s-OFDM\u00a0 (L₁=8)","x":12,"y":0.0064},{"s":"DFT-s-OFDM\u00a0 (L₁=8)","x":13,"y":0.0049},{"s":"DFT-s-OFDM\u00a0 (L₁=8)","x":14,"y":0.0027},{"s":"DFT-s-OFDM\u00a0 (L₁=8)","x":15,"y":0.002},{"s":"DFT-s-OFDM\u00a0 (L₁=8)","x":16,"y":0.00095},{"s":"DFT-s-OFDM\u00a0 (L₁=8)","x":17,"y":0.00042},{"s":"DFT-s-OFDM\u00a0 (L₁=8)","x":18,"y":0.00028},{"s":"DFT-s-OFDM\u00a0 (L₁=8)","x":19,"y":9e-5},{"s":"DFT-s-OFDM\u00a0 (L₁=8)","x":20,"y":3.4e-5},{"s":"DFT-s-OFDM\u00a0 (L₁=8)","x":21,"y":1.3e-5},{"s":"DFT-s-OFDM\u00a0 (L₁=8)","x":22,"y":2.3e-6},{"s":"DFT-s-OFDM\u00a0 (L₁=8)","x":23,"y":3e-7}
]
},
"hconcat": [
{
 "title": {"text": "(a)", "orient": "bottom", "anchor": "middle", "frame": "bounds", "dx": 28, "font": "Liberation Serif", "fontSize": 17, "fontWeight": "normal", "offset": 25},
 "vconcat": [
 {
  "title": {"text": "CE-OFDM, 4-QAM, TDL-B NLOS", "anchor": "middle"},
  "width": 587, "height": 513,
  "data": {"name": "a"},
  "resolve": {"scale": {"color": "independent", "shape": "independent", "strokeDash": "independent"}, "axis": {"x": "independent", "y": "independent"}},
  "layer": [
   {
    "mark": {"type": "line", "clip": true, "strokeWidth": 1.3},
    "encoding": {
     "x": {"field": "x", "type": "quantitative", "scale": {"domain": [0, 28], "nice": false, "zero": false},
       "axis": {"orient": "bottom", "values": [0,0.5,1,1.5,2,2.5,3,3.5,4,4.5,5,5.5,6,6.5,7,7.5,8,8.5,9,9.5,10,10.5,11,11.5,12,12.5,13,13.5,14,14.5,15,15.5,16,16.5,17,17.5,18,18.5,19,19.5,20,20.5,21,21.5,22,22.5,23,23.5,24,24.5,25,25.5,26,26.5,27,27.5,28],
         "labelExpr": "datum.value % 2 == 0 ? '' + datum.value : ''", "gridColor": "#dcdcdc", "gridOpacity": {"condition": {"test": "datum.value % 2 == 0", "value": 1}, "value": 0},
         "tickSize": -4, "labelPadding": 9, "title": "Eb/N₀\u00a0 (dB)", "titlePadding": 9}},
     "y": {"field": "y", "type": "quantitative", "scale": {"type": "log", "domain": [1e-6, 1], "nice": false},
       "axis": {"orient": "left", "values": [1e-6,2e-6,3e-6,4e-6,5e-6,6e-6,7e-6,8e-6,9e-6,1e-5,2e-5,3e-5,4e-5,5e-5,6e-5,7e-5,8e-5,9e-5,1e-4,2e-4,3e-4,4e-4,5e-4,6e-4,7e-4,8e-4,9e-4,1e-3,2e-3,3e-3,4e-3,5e-3,6e-3,7e-3,8e-3,9e-3,1e-2,2e-2,3e-2,4e-2,5e-2,6e-2,7e-2,8e-2,9e-2,0.1,0.2,0.3,0.4,0.5,0.6,0.7,0.8,0.9,1],
         "labelExpr": "abs(log(datum.value)/LN10 - round(log(datum.value)/LN10)) < 0.001 ? ['10⁰','10⁻¹','10⁻²','10⁻³','10⁻⁴','10⁻⁵','10⁻⁶'][-round(log(datum.value)/LN10)] : ''",
         "gridColor": {"condition": {"test": "abs(log(datum.value)/LN10 - round(log(datum.value)/LN10)) < 0.001", "value": "#d6d6d6"}, "value": "#cfcfcf"},
         "gridDash": {"condition": {"test": "abs(log(datum.value)/LN10 - round(log(datum.value)/LN10)) < 0.001", "value": [1, 0]}, "value": [1, 3]},
         "tickSize": -4, "labelPadding": 8, "title": "Bit-Error-Rate (BER)", "titlePadding": 8}},
     "color": {"field": "s", "type": "nominal", "legend": null,
       "scale": {"domain": ["Fov=4, mod. index 0.3","Fov=4, mod. index 0.7","Fov=4, mod. index 1.0","Fov=8, mod. index 0.3","Fov=8, mod. index 0.7","Fov=8, mod. index 1.2","Fov=8, mod. index 2.0","OFDM","DFT-s-OFDM\u00a0 (L₁=8)"],
                 "range": ["#000000","#000000","#000000","#ff0000","#ff0000","#ff0000","#ff0000","#3fa63a","#3fa63a"]}},
     "strokeDash": {"field": "s", "type": "nominal", "legend": null,
       "scale": {"domain": ["Fov=4, mod. index 0.3","Fov=4, mod. index 0.7","Fov=4, mod. index 1.0","Fov=8, mod. index 0.3","Fov=8, mod. index 0.7","Fov=8, mod. index 1.2","Fov=8, mod. index 2.0","OFDM","DFT-s-OFDM\u00a0 (L₁=8)"],
                 "range": [[1,0],[1,0],[1,0],[9,5],[9,5],[9,5],[9,5],[8,4,2,4],[8,4,2,4]]}}
    }
   },
   {
    "mark": {"type": "point", "clip": true, "filled": false, "size": 169, "strokeWidth": 1.2, "opacity": 1},
    "encoding": {
     "x": {"field": "x", "type": "quantitative", "scale": {"domain": [0, 28], "nice": false, "zero": false},
       "axis": {"orient": "top", "values": [0,0.5,1,1.5,2,2.5,3,3.5,4,4.5,5,5.5,6,6.5,7,7.5,8,8.5,9,9.5,10,10.5,11,11.5,12,12.5,13,13.5,14,14.5,15,15.5,16,16.5,17,17.5,18,18.5,19,19.5,20,20.5,21,21.5,22,22.5,23,23.5,24,24.5,25,25.5,26,26.5,27,27.5,28], "labels": false, "grid": false, "domain": false, "tickSize": -4, "title": null, "minExtent": 0}},
     "y": {"field": "y", "type": "quantitative", "scale": {"type": "log", "domain": [1e-6, 1], "nice": false},
       "axis": {"orient": "right", "values": [1e-6,2e-6,3e-6,4e-6,5e-6,6e-6,7e-6,8e-6,9e-6,1e-5,2e-5,3e-5,4e-5,5e-5,6e-5,7e-5,8e-5,9e-5,1e-4,2e-4,3e-4,4e-4,5e-4,6e-4,7e-4,8e-4,9e-4,1e-3,2e-3,3e-3,4e-3,5e-3,6e-3,7e-3,8e-3,9e-3,1e-2,2e-2,3e-2,4e-2,5e-2,6e-2,7e-2,8e-2,9e-2,0.1,0.2,0.3,0.4,0.5,0.6,0.7,0.8,0.9,1], "labels": false, "grid": false, "domain": false, "tickSize": -4, "title": null, "minExtent": 0}},
     "color": {"field": "s", "type": "nominal", "legend": null,
       "scale": {"domain": ["Fov=4, mod. index 0.3","Fov=4, mod. index 0.7","Fov=4, mod. index 1.0","Fov=8, mod. index 0.3","Fov=8, mod. index 0.7","Fov=8, mod. index 1.2","Fov=8, mod. index 2.0","OFDM","DFT-s-OFDM\u00a0 (L₁=8)"],
                 "range": ["#000000","#000000","#000000","#ff0000","#ff0000","#ff0000","#ff0000","#3fa63a","#3fa63a"]}},
     "shape": {"field": "s", "type": "nominal", "legend": null,
       "scale": {"domain": ["Fov=4, mod. index 0.3","Fov=4, mod. index 0.7","Fov=4, mod. index 1.0","Fov=8, mod. index 0.3","Fov=8, mod. index 0.7","Fov=8, mod. index 1.2","Fov=8, mod. index 2.0","OFDM","DFT-s-OFDM\u00a0 (L₁=8)"],
                 "range": ["M-1,0L1,0M0,-1L0,1M-0.7,-0.7L0.7,0.7M-0.7,0.7L0.7,-0.7","M1,0A1,1,0,1,1,-1,0A1,1,0,1,1,1,0Z","M-0.8,-0.95L1,0L-0.8,0.95Z","M-1,0L1,0M0,-1L0,1M-0.7,-0.7L0.7,0.7M-0.7,0.7L0.7,-0.7","M1,0A1,1,0,1,1,-1,0A1,1,0,1,1,1,0Z","M-0.75,-0.75L0.75,-0.75L0.75,0.75L-0.75,0.75Z","M-0.8,-0.95L1,0L-0.8,0.95Z","M-1,0L1,0M0,-1L0,1","M0,-1L0.289,-0.5L0.866,-0.5L0.577,0L0.866,0.5L0.289,0.5L0,1L-0.289,0.5L-0.866,0.5L-0.577,0L-0.866,-0.5L-0.289,-0.5Z"]}}
    }
   },
   {
    "transform": [{"filter": "false"}],
    "mark": {"type": "point", "clip": true, "filled": false, "size": 169, "strokeWidth": 1.2},
    "encoding": {
     "x": {"field": "x", "type": "quantitative", "axis": null},
     "y": {"field": "y", "type": "quantitative", "axis": null},
     "color": {"field": "s", "type": "nominal",
       "legend": {"orient": "top-right", "offset": 6, "title": null, "padding": 6, "strokeColor": "#262626", "fillColor": "white", "labelFontSize": 17, "labelColor": "#000000", "labelLimit": 400, "symbolSize": 169, "symbolStrokeWidth": 1.2, "symbolOffset": 12, "labelOffset": 28, "rowPadding": 2.4},
       "scale": {"domain": ["Fov=4, mod. index 0.3","Fov=4, mod. index 0.7","Fov=4, mod. index 1.0","Fov=8, mod. index 0.3","Fov=8, mod. index 0.7","Fov=8, mod. index 1.2","Fov=8, mod. index 2.0","OFDM","DFT-s-OFDM\u00a0 (L₁=8)"],
                 "range": ["#000000","#000000","#000000","#ff0000","#ff0000","#ff0000","#ff0000","#3fa63a","#3fa63a"]}},
     "shape": {"field": "s", "type": "nominal",
       "legend": {"orient": "top-right", "offset": 6, "title": null, "padding": 6, "strokeColor": "#262626", "fillColor": "white", "labelFontSize": 17, "labelColor": "#000000", "labelLimit": 400, "symbolSize": 169, "symbolStrokeWidth": 1.2, "symbolOffset": 12, "labelOffset": 28, "rowPadding": 2.4},
       "scale": {"domain": ["Fov=4, mod. index 0.3","Fov=4, mod. index 0.7","Fov=4, mod. index 1.0","Fov=8, mod. index 0.3","Fov=8, mod. index 0.7","Fov=8, mod. index 1.2","Fov=8, mod. index 2.0","OFDM","DFT-s-OFDM\u00a0 (L₁=8)"],
                 "range": ["M-3,0L3,0M-1,0L1,0M0,-1L0,1M-0.7,-0.7L0.7,0.7M-0.7,0.7L0.7,-0.7","M-3,0L-1,0M1,0L3,0M1,0A1,1,0,1,1,-1,0A1,1,0,1,1,1,0Z","M-3,0L-0.8,0M1,0L3,0M-0.8,-0.95L1,0L-0.8,0.95Z","M-3,0L-2,0M-1.5,0L1.5,0M2,0L3,0M-1,0L1,0M0,-1L0,1M-0.7,-0.7L0.7,0.7M-0.7,0.7L0.7,-0.7","M-3,0L-2,0M-1.5,0L-1,0M1,0L1.5,0M2,0L3,0M1,0A1,1,0,1,1,-1,0A1,1,0,1,1,1,0Z","M-3,0L-2,0M-1.5,0L1.5,0M2,0L3,0M-0.75,-0.75L0.75,-0.75L0.75,0.75L-0.75,0.75Z","M-3,0L-2,0M-1.5,0L-0.8,0M1,0L1.5,0M2,0L3,0M-0.8,-0.95L1,0L-0.8,0.95Z","M-3,0L-2.2,0M-1.8,0L1.8,0M2.2,0L2.4,0M0,-1L0,1","M-3,0L-2.2,0M-1.8,0L-0.6,0M0.6,0L1.8,0M2.2,0L2.4,0M0,-1L0.289,-0.5L0.866,-0.5L0.577,0L0.866,0.5L0.289,0.5L0,1L-0.289,0.5L-0.866,0.5L-0.577,0L-0.866,-0.5L-0.289,-0.5Z"]}}
    }
   }
  ]
 }
 ]
},
{
 "title": {"text": "(b)", "orient": "bottom", "anchor": "middle", "frame": "bounds", "dx": 26, "font": "Liberation Serif", "fontSize": 17, "fontWeight": "normal", "offset": 25},
 "vconcat": [
 {
  "title": {"text": "CE-SC-OFDM, 4-QAM, TDL-B NLOS", "anchor": "middle"},
  "width": 589, "height": 513,
  "data": {"name": "b"},
  "resolve": {"scale": {"color": "independent", "shape": "independent", "strokeDash": "independent"}, "axis": {"x": "independent", "y": "independent"}},
  "layer": [
   {
    "mark": {"type": "line", "clip": true, "strokeWidth": 1.3},
    "encoding": {
     "x": {"field": "x", "type": "quantitative", "scale": {"domain": [0, 32], "nice": false, "zero": false},
       "axis": {"orient": "bottom", "values": [0,0.5,1,1.5,2,2.5,3,3.5,4,4.5,5,5.5,6,6.5,7,7.5,8,8.5,9,9.5,10,10.5,11,11.5,12,12.5,13,13.5,14,14.5,15,15.5,16,16.5,17,17.5,18,18.5,19,19.5,20,20.5,21,21.5,22,22.5,23,23.5,24,24.5,25,25.5,26,26.5,27,27.5,28,28.5,29,29.5,30,30.5,31,31.5,32],
         "labelExpr": "datum.value % 2 == 0 ? '' + datum.value : ''", "gridColor": "#dcdcdc", "gridOpacity": {"condition": {"test": "datum.value % 2 == 0", "value": 1}, "value": 0},
         "tickSize": -4, "labelPadding": 9, "title": "Eb/N₀\u00a0 (dB)", "titlePadding": 9}},
     "y": {"field": "y", "type": "quantitative", "scale": {"type": "log", "domain": [1e-6, 1], "nice": false},
       "axis": {"orient": "left", "values": [1e-6,2e-6,3e-6,4e-6,5e-6,6e-6,7e-6,8e-6,9e-6,1e-5,2e-5,3e-5,4e-5,5e-5,6e-5,7e-5,8e-5,9e-5,1e-4,2e-4,3e-4,4e-4,5e-4,6e-4,7e-4,8e-4,9e-4,1e-3,2e-3,3e-3,4e-3,5e-3,6e-3,7e-3,8e-3,9e-3,1e-2,2e-2,3e-2,4e-2,5e-2,6e-2,7e-2,8e-2,9e-2,0.1,0.2,0.3,0.4,0.5,0.6,0.7,0.8,0.9,1],
         "labelExpr": "abs(log(datum.value)/LN10 - round(log(datum.value)/LN10)) < 0.001 ? ['10⁰','10⁻¹','10⁻²','10⁻³','10⁻⁴','10⁻⁵','10⁻⁶'][-round(log(datum.value)/LN10)] : ''",
         "gridColor": {"condition": {"test": "abs(log(datum.value)/LN10 - round(log(datum.value)/LN10)) < 0.001", "value": "#d6d6d6"}, "value": "#cfcfcf"},
         "gridDash": {"condition": {"test": "abs(log(datum.value)/LN10 - round(log(datum.value)/LN10)) < 0.001", "value": [1, 0]}, "value": [1, 3]},
         "tickSize": -4, "labelPadding": 8, "title": "Bit-Error-Rate (BER)", "titlePadding": 8}},
     "color": {"field": "s", "type": "nominal", "legend": null,
       "scale": {"domain": ["Fov=4, mod. index 0.3","Fov=4, mod. index 0.5","Fov=4, mod. index 1.0","Fov=4, mod. index 1.4","Fov=8, mod. index 0.3","Fov=8, mod. index 0.5","Fov=8, mod. index 1.0","Fov=8, mod. index 1.4","Fov=8, mod. index 2.0","Fov=8, mod. index 2.5","OFDM","DFT-s-OFDM\u00a0 (L₁=8)"],
                 "range": ["#000000","#000000","#000000","#000000","#ff0000","#ff0000","#ff0000","#ff0000","#ff0000","#ff0000","#3fa63a","#3fa63a"]}},
     "strokeDash": {"field": "s", "type": "nominal", "legend": null,
       "scale": {"domain": ["Fov=4, mod. index 0.3","Fov=4, mod. index 0.5","Fov=4, mod. index 1.0","Fov=4, mod. index 1.4","Fov=8, mod. index 0.3","Fov=8, mod. index 0.5","Fov=8, mod. index 1.0","Fov=8, mod. index 1.4","Fov=8, mod. index 2.0","Fov=8, mod. index 2.5","OFDM","DFT-s-OFDM\u00a0 (L₁=8)"],
                 "range": [[1,0],[1,0],[1,0],[1,0],[9,5],[9,5],[9,5],[9,5],[9,5],[9,5],[8,4,2,4],[8,4,2,4]]}}
    }
   },
   {
    "mark": {"type": "point", "clip": true, "filled": false, "size": 169, "strokeWidth": 1.2, "opacity": 1},
    "encoding": {
     "x": {"field": "x", "type": "quantitative", "scale": {"domain": [0, 32], "nice": false, "zero": false},
       "axis": {"orient": "top", "values": [0,0.5,1,1.5,2,2.5,3,3.5,4,4.5,5,5.5,6,6.5,7,7.5,8,8.5,9,9.5,10,10.5,11,11.5,12,12.5,13,13.5,14,14.5,15,15.5,16,16.5,17,17.5,18,18.5,19,19.5,20,20.5,21,21.5,22,22.5,23,23.5,24,24.5,25,25.5,26,26.5,27,27.5,28,28.5,29,29.5,30,30.5,31,31.5,32], "labels": false, "grid": false, "domain": false, "tickSize": -4, "title": null, "minExtent": 0}},
     "y": {"field": "y", "type": "quantitative", "scale": {"type": "log", "domain": [1e-6, 1], "nice": false},
       "axis": {"orient": "right", "values": [1e-6,2e-6,3e-6,4e-6,5e-6,6e-6,7e-6,8e-6,9e-6,1e-5,2e-5,3e-5,4e-5,5e-5,6e-5,7e-5,8e-5,9e-5,1e-4,2e-4,3e-4,4e-4,5e-4,6e-4,7e-4,8e-4,9e-4,1e-3,2e-3,3e-3,4e-3,5e-3,6e-3,7e-3,8e-3,9e-3,1e-2,2e-2,3e-2,4e-2,5e-2,6e-2,7e-2,8e-2,9e-2,0.1,0.2,0.3,0.4,0.5,0.6,0.7,0.8,0.9,1], "labels": false, "grid": false, "domain": false, "tickSize": -4, "title": null, "minExtent": 0}},
     "color": {"field": "s", "type": "nominal", "legend": null,
       "scale": {"domain": ["Fov=4, mod. index 0.3","Fov=4, mod. index 0.5","Fov=4, mod. index 1.0","Fov=4, mod. index 1.4","Fov=8, mod. index 0.3","Fov=8, mod. index 0.5","Fov=8, mod. index 1.0","Fov=8, mod. index 1.4","Fov=8, mod. index 2.0","Fov=8, mod. index 2.5","OFDM","DFT-s-OFDM\u00a0 (L₁=8)"],
                 "range": ["#000000","#000000","#000000","#000000","#ff0000","#ff0000","#ff0000","#ff0000","#ff0000","#ff0000","#3fa63a","#3fa63a"]}},
     "shape": {"field": "s", "type": "nominal", "legend": null,
       "scale": {"domain": ["Fov=4, mod. index 0.3","Fov=4, mod. index 0.5","Fov=4, mod. index 1.0","Fov=4, mod. index 1.4","Fov=8, mod. index 0.3","Fov=8, mod. index 0.5","Fov=8, mod. index 1.0","Fov=8, mod. index 1.4","Fov=8, mod. index 2.0","Fov=8, mod. index 2.5","OFDM","DFT-s-OFDM\u00a0 (L₁=8)"],
                 "range": ["M-1,0L1,0M0,-1L0,1M-0.7,-0.7L0.7,0.7M-0.7,0.7L0.7,-0.7","M1,0A1,1,0,1,1,-1,0A1,1,0,1,1,1,0Z","M-0.75,-0.75L0.75,-0.75L0.75,0.75L-0.75,0.75Z","M-0.75,-0.75L0.75,0.75M-0.75,0.75L0.75,-0.75","M-1,0L1,0M0,-1L0,1M-0.7,-0.7L0.7,0.7M-0.7,0.7L0.7,-0.7","M1,0A1,1,0,1,1,-1,0A1,1,0,1,1,1,0Z","M-0.75,-0.75L0.75,-0.75L0.75,0.75L-0.75,0.75Z","M-0.75,-0.75L0.75,0.75M-0.75,0.75L0.75,-0.75","M0,-1L0.289,-0.5L0.866,-0.5L0.577,0L0.866,0.5L0.289,0.5L0,1L-0.289,0.5L-0.866,0.5L-0.577,0L-0.866,-0.5L-0.289,-0.5Z","M-1,-0.8L1,-0.8L0,1Z","M-1,0L1,0M0,-1L0,1","M0,-1L0.289,-0.5L0.866,-0.5L0.577,0L0.866,0.5L0.289,0.5L0,1L-0.289,0.5L-0.866,0.5L-0.577,0L-0.866,-0.5L-0.289,-0.5Z"]}}
    }
   },
   {
    "transform": [{"filter": "false"}],
    "mark": {"type": "point", "clip": true, "filled": false, "size": 169, "strokeWidth": 1.2},
    "encoding": {
     "x": {"field": "x", "type": "quantitative", "axis": null},
     "y": {"field": "y", "type": "quantitative", "axis": null},
     "color": {"field": "s", "type": "nominal",
       "legend": {"orient": "bottom-left", "offset": 10, "title": null, "padding": 6, "strokeColor": "#262626", "fillColor": "white", "labelFontSize": 17, "labelColor": "#000000", "labelLimit": 400, "symbolSize": 169, "symbolStrokeWidth": 1.2, "symbolOffset": 12, "labelOffset": 28, "rowPadding": 2.4},
       "scale": {"domain": ["Fov=4, mod. index 0.3","Fov=4, mod. index 0.5","Fov=4, mod. index 1.0","Fov=4, mod. index 1.4","Fov=8, mod. index 0.3","Fov=8, mod. index 0.5","Fov=8, mod. index 1.0","Fov=8, mod. index 1.4","Fov=8, mod. index 2.0","Fov=8, mod. index 2.5","OFDM","DFT-s-OFDM\u00a0 (L₁=8)"],
                 "range": ["#000000","#000000","#000000","#000000","#ff0000","#ff0000","#ff0000","#ff0000","#ff0000","#ff0000","#3fa63a","#3fa63a"]}},
     "shape": {"field": "s", "type": "nominal",
       "legend": {"orient": "bottom-left", "offset": 10, "title": null, "padding": 6, "strokeColor": "#262626", "fillColor": "white", "labelFontSize": 17, "labelColor": "#000000", "labelLimit": 400, "symbolSize": 169, "symbolStrokeWidth": 1.2, "symbolOffset": 12, "labelOffset": 28, "rowPadding": 2.4},
       "scale": {"domain": ["Fov=4, mod. index 0.3","Fov=4, mod. index 0.5","Fov=4, mod. index 1.0","Fov=4, mod. index 1.4","Fov=8, mod. index 0.3","Fov=8, mod. index 0.5","Fov=8, mod. index 1.0","Fov=8, mod. index 1.4","Fov=8, mod. index 2.0","Fov=8, mod. index 2.5","OFDM","DFT-s-OFDM\u00a0 (L₁=8)"],
                 "range": ["M-3,0L3,0M-1,0L1,0M0,-1L0,1M-0.7,-0.7L0.7,0.7M-0.7,0.7L0.7,-0.7","M-3,0L-1,0M1,0L3,0M1,0A1,1,0,1,1,-1,0A1,1,0,1,1,1,0Z","M-3,0L3,0M-0.75,-0.75L0.75,-0.75L0.75,0.75L-0.75,0.75Z","M-3,0L3,0M-0.75,-0.75L0.75,0.75M-0.75,0.75L0.75,-0.75","M-3,0L-2,0M-1.5,0L1.5,0M2,0L3,0M-1,0L1,0M0,-1L0,1M-0.7,-0.7L0.7,0.7M-0.7,0.7L0.7,-0.7","M-3,0L-2,0M-1.5,0L-1,0M1,0L1.5,0M2,0L3,0M1,0A1,1,0,1,1,-1,0A1,1,0,1,1,1,0Z","M-3,0L-2,0M-1.5,0L1.5,0M2,0L3,0M-0.75,-0.75L0.75,-0.75L0.75,0.75L-0.75,0.75Z","M-3,0L-2,0M-1.5,0L1.5,0M2,0L3,0M-0.75,-0.75L0.75,0.75M-0.75,0.75L0.75,-0.75","M-3,0L-2,0M-1.5,0L-0.6,0M0.6,0L1.5,0M2,0L3,0M0,-1L0.289,-0.5L0.866,-0.5L0.577,0L0.866,0.5L0.289,0.5L0,1L-0.289,0.5L-0.866,0.5L-0.577,0L-0.866,-0.5L-0.289,-0.5Z","M-3,0L-2,0M-1.5,0L-1,0M1,0L1.5,0M2,0L3,0M-1,-0.8L1,-0.8L0,1Z","M-3,0L-2.2,0M-1.8,0L1.8,0M2.2,0L2.4,0M0,-1L0,1","M-3,0L-2.2,0M-1.8,0L-0.6,0M0.6,0L1.8,0M2.2,0L2.4,0M0,-1L0.289,-0.5L0.866,-0.5L0.577,0L0.866,0.5L0.289,0.5L0,1L-0.289,0.5L-0.866,0.5L-0.577,0L-0.866,-0.5L-0.289,-0.5Z"]}}
    }
   }
  ]
 }
 ]
}
]
}
